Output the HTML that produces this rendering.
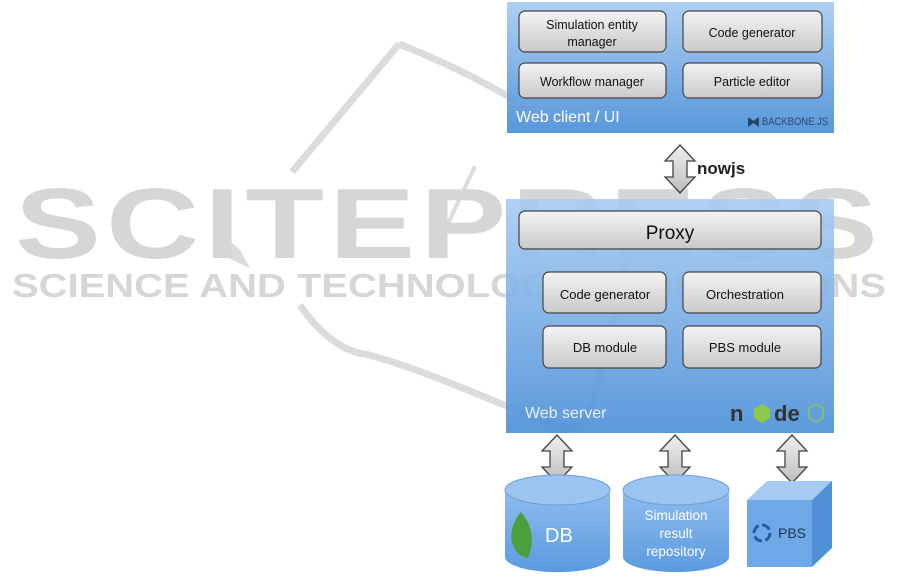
<!DOCTYPE html>
<html><head><meta charset="utf-8"><style>
html,body{margin:0;padding:0;background:#fff;}
svg{display:block;font-family:"Liberation Sans",sans-serif;}
</style></head><body>
<svg width="901" height="579" viewBox="0 0 901 579" xmlns="http://www.w3.org/2000/svg">
<defs>
<linearGradient id="blue" x1="0" y1="0" x2="0" y2="1"><stop offset="0" stop-color="#a8ccf2"/><stop offset="1" stop-color="#4a8ed8"/></linearGradient>
<linearGradient id="btn" x1="0" y1="0" x2="0" y2="1"><stop offset="0" stop-color="#f4f4f4"/><stop offset="1" stop-color="#c9c9c9"/></linearGradient>
<linearGradient id="arr" x1="0" y1="0" x2="0" y2="1"><stop offset="0" stop-color="#f0f0f0"/><stop offset="1" stop-color="#bdbdbd"/></linearGradient>
<linearGradient id="cyl" x1="0" y1="0" x2="0" y2="1"><stop offset="0" stop-color="#8fbcee"/><stop offset="1" stop-color="#5b9ae0"/></linearGradient>
<g id="dbl"><path d="M0,-24 L15,-8 L7,-8 L7,8 L15,8 L0,24 L-15,8 L-7,8 L-7,-8 L-15,-8 Z" fill="url(#arr)" stroke="#444" stroke-width="1.3"/></g>
</defs>
<!-- watermark -->
<g fill="none" stroke="#dcdcdc" stroke-width="7" stroke-linejoin="round">
<path d="M399,44 L292,172"/>
<path d="M399,44 C440,60 480,80 515,100"/>
<path d="M300,305 C320,335 345,352 365,354 C430,370 520,415 567,428"/>
<path d="M475,166 L432,258" stroke-width="4"/>
<path d="M632,240 L595,395 C585,425 575,430 560,428"/>
</g>
<path d="M225,236 L215,252 L250,268 L240,250 Z" fill="#dcdcdc"/>
<g fill="#d6d6d6">
<text x="15" y="258" font-size="100" font-weight="bold" textLength="868" lengthAdjust="spacingAndGlyphs" style="letter-spacing:4px">SCITEPRESS</text>
<text x="12" y="297" font-size="33" font-weight="bold" textLength="874" lengthAdjust="spacingAndGlyphs">SCIENCE AND TECHNOLOGY PUBLICATIONS</text>
</g>
<!-- top box -->
<rect x="507" y="2" width="327" height="131" fill="url(#blue)" opacity="0.92"/>
<g stroke="#444" stroke-width="1.2" fill="url(#btn)">
<rect x="519" y="11" width="147" height="41" rx="6"/>
<rect x="683" y="11" width="139" height="41" rx="6"/>
<rect x="519" y="63" width="147" height="35" rx="6"/>
<rect x="683" y="63" width="139" height="35" rx="6"/>
</g>
<g font-size="12.5" fill="#111" text-anchor="middle">
<text x="592" y="29">Simulation entity</text>
<text x="592" y="46">manager</text>
<text x="752" y="37">Code generator</text>
<text x="592" y="86">Workflow manager</text>
<text x="752" y="86">Particle editor</text>
</g>
<text x="516" y="122" font-size="16" fill="#fff">Web client / UI</text>
<text x="747" y="126" font-size="13" fill="#25446a" font-weight="bold">⧓</text>
<text x="762" y="125" font-size="11" fill="#2b4a70" textLength="66" lengthAdjust="spacingAndGlyphs">BACKBONE.JS</text>
<!-- nowjs arrow -->
<use href="#dbl" transform="translate(680,169)"/>
<text x="697" y="174" font-size="17" font-weight="bold" fill="#222">nowjs</text>
<!-- server -->
<rect x="506" y="199" width="328" height="234" fill="url(#blue)" opacity="0.9"/>
<g stroke="#444" stroke-width="1.2" fill="url(#btn)">
<rect x="519" y="211" width="302" height="38" rx="6"/>
<rect x="543" y="272" width="123" height="41" rx="6"/>
<rect x="683" y="272" width="138" height="41" rx="6"/>
<rect x="543" y="326" width="123" height="42" rx="6"/>
<rect x="683" y="326" width="138" height="42" rx="6"/>
</g>
<g fill="#111" text-anchor="middle">
<text x="670" y="239" font-size="19">Proxy</text>
<text x="605" y="299" font-size="13">Code generator</text>
<text x="745" y="299" font-size="13">Orchestration</text>
<text x="605" y="352" font-size="13">DB module</text>
<text x="745" y="352" font-size="13">PBS module</text>
</g>
<text x="525" y="418" font-size="16" fill="#e8f0fa">Web server</text>
<g>
<text x="730" y="421" font-size="22" font-weight="bold" fill="#333">n</text>
<polygon points="762,404 770,409 770,418 762,423 754,418 754,409" fill="#8cc84b"/>
<text x="774" y="421" font-size="22" font-weight="bold" fill="#333">de</text>
<polygon points="816,404 823,408 823,418 816,422 809,418 809,408" fill="none" stroke="#8cc84b" stroke-width="1.5"/>
</g>
<!-- bottom arrows -->
<use href="#dbl" transform="translate(557,459)"/>
<use href="#dbl" transform="translate(675,459)"/>
<use href="#dbl" transform="translate(792,459)"/>
<!-- DB cylinder -->
<g>
<path d="M505,490 L505,557 A52,15 0 0 0 610,557 L610,490 Z" fill="url(#cyl)"/>
<ellipse cx="557.5" cy="490" rx="52.5" ry="15" fill="#9cc4f0" stroke="#6a9fd8"/>
<path d="M521,512 C505,530 510,555 528,558 C535,540 532,525 521,512 Z" fill="#4aa03a"/>
<text x="545" y="542" font-size="20" fill="#fff">DB</text>
</g>
<g>
<path d="M623,490 L623,557 A53,15 0 0 0 729,557 L729,490 Z" fill="url(#cyl)"/>
<ellipse cx="676" cy="490" rx="53" ry="15" fill="#9cc4f0" stroke="#6a9fd8"/>
<g fill="#fff" font-size="13.5" text-anchor="middle">
<text x="676" y="520">Simulation</text>
<text x="676" y="538">result</text>
<text x="676" y="556">repository</text>
</g>
</g>
<!-- PBS cube -->
<g>
<polygon points="747,500 767,481 832,481 812,500" fill="#a5cbf3"/>
<polygon points="812,500 832,481 832,548 812,567" fill="#4f8fd6"/>
<rect x="747" y="500" width="65" height="67" fill="#6fa8e6"/>
<circle cx="762" cy="533" r="8" fill="none" stroke="#1d5f9e" stroke-width="3" stroke-dasharray="9 3.5"/>
<text x="778" y="538" font-size="14" fill="#1e3350">PBS</text>
</g>
</svg>
</body></html>
